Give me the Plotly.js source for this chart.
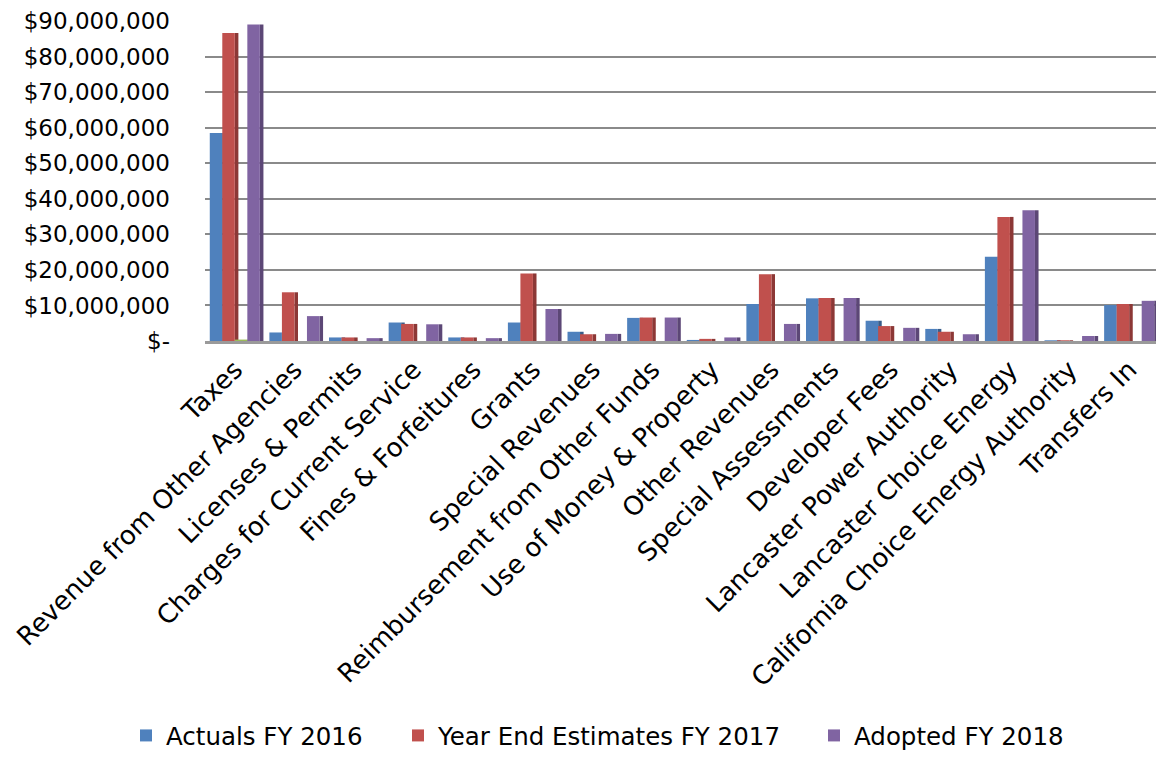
<!DOCTYPE html>
<html>
<head>
<meta charset="utf-8">
<script src="https://cdn.plot.ly/plotly-3.0.1.min.js"></script>
<style>
  html, body { margin: 0; padding: 0; background: #ffffff; }
  #chart { width: 1156px; height: 758px; }
</style>
</head>
<body>
<div id="chart"></div>
<script>
// ---- Data ----
var categories = [
  "Taxes", "Revenue from Other Agencies", "Licenses & Permits",
  "Charges for Current Service", "Fines & Forfeitures", "Grants",
  "Special Revenues", "Reimbursement from Other Funds",
  "Use of Money & Property", "Other Revenues", "Special Assessments",
  "Developer Fees", "Lancaster Power Authority", "Lancaster Choice Energy",
  "California Choice Energy Authority", "Transfers In"
];
var actualsFY2016 = [58500000, 2400000, 1000000, 5200000, 1000000, 5200000, 2600000, 6500000,
                     300000, 10400000, 12000000, 5700000, 3400000, 23700000, 200000, 10100000];
var estimatesFY2017 = [86600000, 13700000, 1000000, 4800000, 1000000, 19000000, 1900000, 6600000,
                       600000, 18800000, 12100000, 4200000, 2600000, 34900000, 200000, 10400000];
var hiddenSeries = [400000, 0, 0, 0, 0, 0, 0, 0, 0, 0, 0, 0, 0, 0, 0, 0];
var adoptedFY2018 = [89000000, 7000000, 800000, 4700000, 800000, 9000000, 2000000, 6600000,
                     1000000, 4800000, 12100000, 3700000, 1900000, 36800000, 1400000, 11300000];
var seriesNames = ["Actuals FY 2016", "Year End Estimates FY 2017", "Series 3", "Adopted FY 2018"];
var yTickVals = [0, 10000000, 20000000, 30000000, 40000000, 50000000, 60000000, 70000000, 80000000, 90000000];
var yTickText = ["$-", "$10,000,000", "$20,000,000", "$30,000,000", "$40,000,000",
                 "$50,000,000", "$60,000,000", "$70,000,000", "$80,000,000", "$90,000,000"];

// ---- Styling ----
var seriesData = [actualsFY2016, estimatesFY2017, hiddenSeries, adoptedFY2018];
var frontColors = ["#4F81BD", "#C0504D", "#9BBB59", "#8064A2"];
var sideColors  = ["#385D8A", "#8C3836", "#71893F", "#5C4776"];
var legendShown = [true, true, false, true];
var legendIds = ["legend", "legend2", "legend", "legend3"];
var barW = 0.21;
var sideW = 0.06;
var offsets = [-0.42, -0.21, 0.0, 0.21];

var traces = [];
// side faces first (drawn behind next bar's front face)
for (var i = 0; i < 4; i++) {
  traces.push({
    type: "bar", x: categories, y: seriesData[i],
    width: sideW, offset: offsets[i] + barW,
    marker: { color: sideColors[i], line: { width: 0 } },
    showlegend: false, hoverinfo: "skip", name: seriesNames[i] + " side"
  });
}
for (var j = 0; j < 4; j++) {
  traces.push({
    type: "bar", x: categories, y: seriesData[j],
    width: barW, offset: offsets[j],
    marker: { color: frontColors[j], line: { width: 0 } },
    name: seriesNames[j], showlegend: legendShown[j], legend: legendIds[j]
  });
}

var fontFam = "DejaVu Sans, sans-serif";
function legendAt(xpx) {
  return {
    orientation: "h",
    xref: "container", yref: "container",
    x: xpx / 1156, xanchor: "left",
    y: 0, yanchor: "bottom",
    font: { family: fontFam, size: 24.5, color: "#000000" },
    bgcolor: "rgba(0,0,0,0)", borderwidth: 0
  };
}
var layout = {
  width: 1156, height: 758,
  margin: { l: 205, r: 0, t: 21, b: 417 },
  paper_bgcolor: "#ffffff", plot_bgcolor: "#ffffff",
  barmode: "overlay",
  font: { family: fontFam, size: 21, color: "#000000" },
  xaxis: {
    type: "category",
    range: [-0.5, 15.45],
    tickangle: -45,
    tickfont: { family: fontFam, size: 26, color: "#000000" },
    showgrid: false, zeroline: false,
    showline: true, linecolor: "#9a9a9a", linewidth: 3,
    ticks: "", fixedrange: true
  },
  yaxis: {
    range: [0, 90000000],
    tickvals: yTickVals, ticktext: yTickText,
    tickfont: { family: fontFam, size: 23, color: "#000000" },
    showgrid: true, gridcolor: "#8a8a8a", gridwidth: 2,
    zeroline: false, showline: false, ticks: "",
    ticklabelstandoff: 34, fixedrange: true
  },
  legend: legendAt(126),
  legend2: legendAt(398),
  legend3: legendAt(814),
  showlegend: true
};

Plotly.newPlot("chart", traces, layout, { displayModeBar: false, staticPlot: true });
</script>
</body>
</html>
